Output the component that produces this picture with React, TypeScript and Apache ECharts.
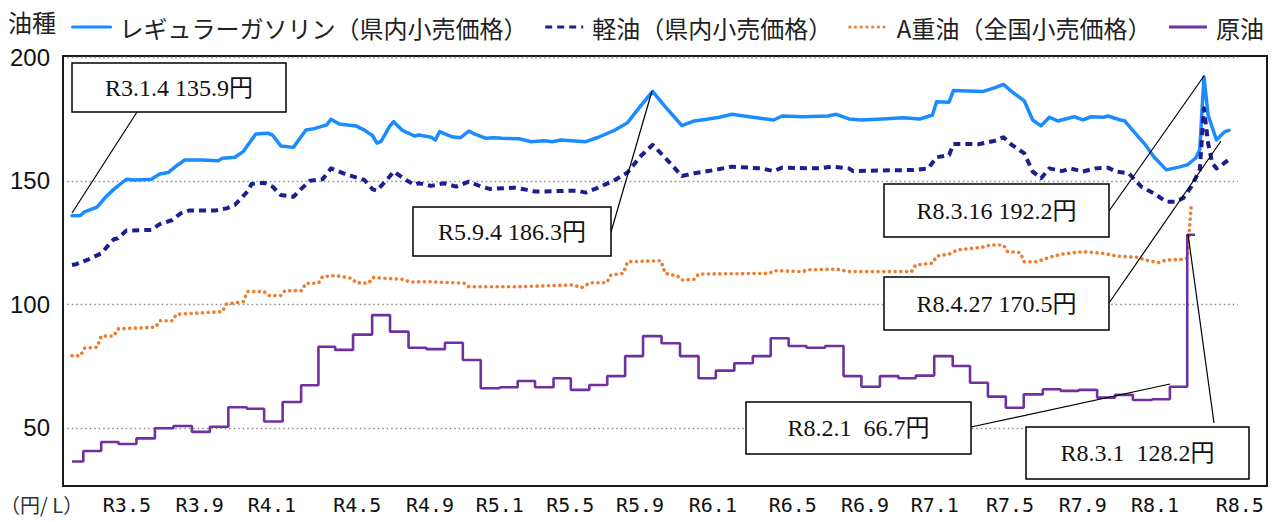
import React, { useEffect, useRef } from "react";
import * as echarts from "echarts";

// x values are days since R3.1.4 (2021-01-04); weekly series use week numbers since that date
const DAYS_PER_WEEK = 7;

const seriesNames = [
  "レギュラーガソリン（県内小売価格）",
  "軽油（県内小売価格）",
  "A重油（全国小売価格）",
  "原油",
];

const gasolineWeeks = [0, 2, 3, 6, 8, 10, 13, 15, 19, 21, 23, 25, 27, 31, 35, 36, 39, 41, 44, 47, 48, 50, 53, 56, 58, 61, 62, 64, 68, 70, 72, 73, 74, 76, 77, 79, 82, 83, 86, 87, 88, 91, 93, 95, 96, 99, 101, 103, 107, 110, 113, 115, 117, 123, 126, 130, 133, 136, 139, 142, 144, 146, 149, 152, 155, 158, 163, 168, 170, 175, 181, 183, 186, 189, 194, 199, 203, 206, 207, 210, 211, 218, 221, 223, 225, 228, 230, 232, 234, 236, 239, 240, 242, 244, 247, 248, 251, 252, 254, 257, 259, 262, 265, 267, 269, 270, 271, 272, 274, 276, 277];
const gasolineValues = [135.9, 136.0, 137.5, 139.4, 143.4, 146.6, 150.7, 150.4, 150.7, 152.8, 153.4, 156.1, 158.5, 158.5, 158.2, 159.2, 159.6, 161.9, 169.0, 169.3, 168.6, 164.2, 163.6, 170.6, 171.2, 172.7, 175.0, 173.1, 172.3, 170.6, 168.3, 165.3, 166.0, 172.0, 174.0, 170.6, 168.2, 168.6, 167.7, 166.6, 170.0, 167.9, 167.5, 170.2, 169.3, 167.3, 167.5, 167.3, 167.1, 165.9, 166.3, 165.9, 166.6, 165.9, 167.7, 170.6, 173.6, 180.1, 186.3, 180.1, 176.3, 172.4, 174.3, 175.0, 175.8, 177.0, 175.8, 174.7, 176.3, 176.0, 176.3, 177.0, 175.1, 174.7, 175.1, 175.6, 175.1, 176.7, 182.1, 181.9, 186.6, 186.2, 187.8, 189.1, 186.2, 182.4, 174.7, 172.3, 175.8, 174.3, 175.6, 176.0, 174.7, 176.0, 175.8, 176.3, 174.7, 174.4, 170.4, 164.6, 159.8, 154.5, 155.6, 156.5, 159.2, 162.6, 192.2, 176.7, 166.6, 170.0, 170.5];

const dieselWeeks = [0, 1, 4, 7, 10, 11, 13, 19, 21, 24, 26, 28, 34, 37, 39, 42, 43, 46, 48, 50, 53, 55, 57, 60, 62, 65, 67, 70, 72, 73, 76, 77, 80, 82, 83, 86, 89, 92, 95, 98, 100, 106, 109, 111, 121, 123, 126, 130, 133, 136, 139, 141, 144, 146, 149, 154, 158, 162, 165, 168, 170, 179, 182, 186, 187, 202, 205, 207, 210, 211, 217, 221, 223, 225, 228, 230, 232, 234, 237, 239, 242, 245, 248, 250, 253, 256, 259, 262, 264, 266, 268, 270, 271, 272, 273, 274, 275, 276, 277];
const dieselValues = [116.0, 116.3, 118.3, 120.7, 126.4, 126.8, 129.9, 130.2, 132.5, 134.2, 136.9, 138.0, 138.0, 138.9, 140.3, 145.7, 148.8, 149.3, 147.7, 144.3, 143.6, 147.0, 150.1, 150.7, 155.1, 153.1, 152.0, 150.4, 146.6, 146.1, 151.7, 153.8, 150.4, 148.4, 149.1, 148.0, 149.1, 147.7, 149.7, 147.7, 146.8, 147.3, 146.4, 145.7, 146.1, 145.3, 147.3, 150.4, 153.4, 159.8, 164.6, 161.2, 155.8, 152.0, 153.1, 154.5, 155.8, 155.4, 155.1, 154.0, 155.4, 155.1, 155.8, 155.1, 154.0, 154.5, 155.1, 159.6, 160.5, 165.0, 164.9, 166.3, 167.7, 164.6, 161.2, 153.8, 151.1, 155.1, 154.0, 155.1, 153.8, 155.1, 155.4, 153.8, 153.1, 147.7, 145.0, 141.6, 141.6, 143.0, 147.7, 154.5, 179.4, 165.3, 157.2, 155.1, 156.0, 157.5, 158.5];

const heavyOilWeeks = [0, 2, 3, 6, 7, 10, 11, 20, 21, 24, 25, 36, 37, 41, 42, 46, 47, 50, 51, 55, 56, 59, 60, 63, 67, 68, 71, 72, 79, 81, 86, 94, 95, 107, 120, 122, 124, 128, 129, 132, 133, 141, 142, 145, 146, 149, 150, 167, 168, 175, 176, 183, 186, 201, 202, 206, 207, 210, 212, 218, 220, 223, 224, 227, 228, 231, 234, 237, 242, 247, 250, 255, 257, 260, 262, 266, 267, 268];
const heavyOilValues = [79.2, 79.2, 82.3, 82.7, 87.2, 87.2, 90.1, 90.8, 93.4, 93.4, 96.0, 97.1, 100.2, 101.1, 105.2, 105.2, 103.6, 103.6, 105.6, 105.6, 108.6, 108.6, 111.3, 111.7, 110.6, 108.8, 108.6, 110.9, 110.2, 109.1, 109.2, 108.6, 107.2, 107.2, 107.9, 106.8, 108.8, 108.8, 111.9, 112.6, 117.3, 117.7, 112.6, 111.5, 109.9, 110.2, 112.3, 112.6, 113.7, 113.3, 114.0, 114.3, 113.3, 113.3, 116.0, 116.7, 119.6, 120.4, 122.1, 123.2, 124.1, 124.1, 121.4, 121.0, 117.3, 117.3, 119.1, 120.4, 121.4, 120.7, 119.6, 119.1, 118.0, 116.9, 118.0, 118.3, 118.7, 141.2];

// monthly crude oil price, each value shown from its start day (days since R3.1.4)
const crudeDays = [0, 19, 49, 78, 108, 139, 170, 201, 231, 262, 293, 322, 353, 384, 413, 441, 471, 503, 533, 564, 594, 625, 655, 685, 717, 747, 776, 807, 836, 867, 897, 927, 957, 988, 1019, 1050, 1079, 1110, 1141, 1171, 1201, 1231, 1262, 1293, 1323, 1354, 1385, 1414, 1445, 1476, 1505, 1535, 1565, 1595, 1627, 1657, 1687, 1718, 1748, 1778, 1810, 1840, 1869, 1882];
const crudeValues = [36.4, 40.7, 44.3, 43.5, 45.8, 49.9, 50.8, 48.4, 50.5, 58.4, 57.8, 52.6, 60.5, 67.3, 82.9, 81.6, 87.8, 95.7, 89.0, 82.5, 81.9, 84.5, 77.5, 66.1, 66.5, 69.0, 66.5, 70.1, 65.4, 67.4, 71.0, 79.1, 87.2, 84.3, 79.1, 70.1, 73.2, 76.2, 79.1, 86.3, 83.2, 82.5, 83.2, 71.0, 66.7, 71.0, 70.1, 71.2, 79.1, 75.1, 68.3, 62.7, 58.2, 63.6, 65.7, 65.0, 65.4, 62.3, 63.4, 61.3, 61.6, 66.7, 128.2, 128.2];

const xTickLabels = ["R3.5", "R3.9", "R4.1", "R4.5", "R4.9", "R5.1", "R5.5", "R5.9", "R6.1", "R6.5", "R6.9", "R7.1", "R7.5", "R7.9", "R8.1", "R8.5"];
const xTickDays = [92, 214, 335, 478, 600, 717, 835, 952, 1074, 1208, 1329, 1446, 1572, 1694, 1815, 1957];
const yTickValues = [50, 100, 150, 200];

const colors = ["#1a8cff", "#1b1f8f", "#ED7D31", "#7030A0"];

const annotations = [
  { text: "R3.1.4 135.9円", box: [72, 63, 214, 49], line: [137, 112, 72, 213] },
  { text: "R5.9.4 186.3円", box: [413, 207, 198, 49], line: [611, 232, 652, 91] },
  { text: "R8.3.16 192.2円", box: [884, 184, 225, 53], line: [1109, 211, 1204, 76] },
  { text: "R8.4.27 170.5円", box: [884, 277, 225, 53], line: [1109, 303, 1221, 141] },
  { text: "R8.2.1  66.7円", box: [746, 402, 225, 52], line: [971, 427, 1170, 384] },
  { text: "R8.3.1  128.2円", box: [1026, 427, 223, 52], line: [1214, 423, 1188, 234] },
];

export default function App() {
  const ref = useRef<HTMLDivElement>(null);
  useEffect(() => {
    if (!ref.current) return;
    const chart = echarts.init(ref.current, null, { renderer: "svg" });
    const labelMap = new Map<number, string>();
    xTickDays.forEach((d, i) => labelMap.set(d, xTickLabels[i]));

    const lineBase = { type: "line", showSymbol: false, symbol: "none", z: 3 } as any;

    const graphics: any[] = [
      {
        type: "text",
        left: 8,
        top: 9,
        style: { text: "油種", fontSize: 24, fontFamily: "Noto Sans CJK JP", fill: "#222" },
      },
      {
        type: "text",
        left: 0,
        top: 494,
        style: { text: "（円/ L）", fontSize: 20, fontFamily: "Noto Sans CJK JP", fill: "#333" },
      },
    ];
    annotations.forEach((a) => {
      const [bx, by, bw, bh] = a.box;
      const [x1, y1, x2, y2] = a.line;
      graphics.push({
        type: "line",
        shape: { x1, y1, x2, y2 },
        style: { stroke: "#000", lineWidth: 1.2 },
        z: 100,
      });
      graphics.push({
        type: "rect",
        shape: { x: bx, y: by, width: bw, height: bh },
        style: { fill: "#fff", stroke: "#000", lineWidth: 1.5 },
        z: 101,
      });
      graphics.push({
        type: "text",
        x: bx + bw / 2,
        y: by + bh / 2,
        style: {
          text: a.text,
          fontSize: 24,
          fontFamily: "'Liberation Serif', 'Noto Sans CJK JP', serif",
          fill: "#111",
          align: "center",
          verticalAlign: "middle",
          textAlign: "center",
          textVerticalAlign: "middle",
        },
        z: 102,
      });
    });

    chart.setOption({
      animation: false,
      backgroundColor: "#fff",
      grid: {
        left: 63,
        right: 20,
        top: 56,
        bottom: 36,
        show: true,
        borderColor: "#1a1a1a",
        borderWidth: 2,
        backgroundColor: "#fff",
        containLabel: false,
        outerBoundsMode: "none",
      },
      legend: {
        left: 66,
        top: 10,
        itemWidth: 38,
        itemHeight: 14,
        itemGap: 16,
        data: seriesNames,
        itemStyle: { opacity: 0 },
        lineStyle: { width: 3.2 },
        textStyle: {
          fontFamily: "Noto Sans CJK JP",
          fontSize: 24,
          color: "#222",
          padding: [0, 0, 0, 4],
        },
      },
      xAxis: {
        type: "value",
        min: -15.08,
        max: 2002.7,
        axisLine: { show: false },
        axisTick: { show: false },
        splitLine: { show: false },
        axisLabel: {
          customValues: xTickDays,
          formatter: (v: number) => labelMap.get(v) ?? "",
          fontFamily: "'DejaVu Sans Mono', monospace",
          fontSize: 20,
          color: "#111",
          margin: 9,
          hideOverlap: false,
        },
      },
      yAxis: {
        type: "value",
        min: 26.5,
        max: 200.6,
        axisLine: { show: false },
        axisTick: { show: false },
        splitLine: { show: false },
        axisLabel: {
          customValues: yTickValues,
          fontFamily: "'Liberation Sans', Arial, sans-serif",
          fontSize: 24,
          color: "#111",
          margin: 13,
        },
      },
      graphic: graphics,
      series: [
        {
          type: "line",
          name: "grid",
          data: [],
          silent: true,
          z: 1,
          markLine: {
            silent: true,
            z: 1,
            symbol: ["none", "none"],
            label: { show: false },
            lineStyle: { color: "#8c8c8c", type: [1.5, 3], width: 1.3 },
            data: yTickValues.map((v) => [
              { coord: [-8, v] },
              { coord: [1954, v] },
            ]),
          },
        },
        {
          ...lineBase,
          name: seriesNames[0],
          data: gasolineWeeks.map((w, i) => [w * DAYS_PER_WEEK, gasolineValues[i]]),
          lineStyle: { color: colors[0], width: 3.5, join: "round", cap: "round" },
          itemStyle: { color: colors[0] },
        },
        {
          ...lineBase,
          name: seriesNames[1],
          data: dieselWeeks.map((w, i) => [w * DAYS_PER_WEEK, dieselValues[i]]),
          lineStyle: { color: colors[1], width: 4, type: [7, 5], join: "round" },
          itemStyle: { color: colors[1] },
        },
        {
          ...lineBase,
          name: seriesNames[2],
          data: heavyOilWeeks.map((w, i) => [w * DAYS_PER_WEEK, heavyOilValues[i]]),
          lineStyle: { color: colors[2], width: 3.6, type: [0.1, 5.6], cap: "round", join: "round" },
          itemStyle: { color: colors[2] },
        },
        {
          ...lineBase,
          name: seriesNames[3],
          step: "end",
          data: crudeDays.map((d, i) => [d, crudeValues[i]]),
          lineStyle: { color: colors[3], width: 2.6 },
          itemStyle: { color: colors[3] },
        },
      ],
    });
    return () => chart.dispose();
  }, []);
  return (
    <div
      ref={ref}
      style={{ position: "fixed", left: 0, top: 0, width: 1287, height: 522, background: "#fff" }}
    />
  );
}
